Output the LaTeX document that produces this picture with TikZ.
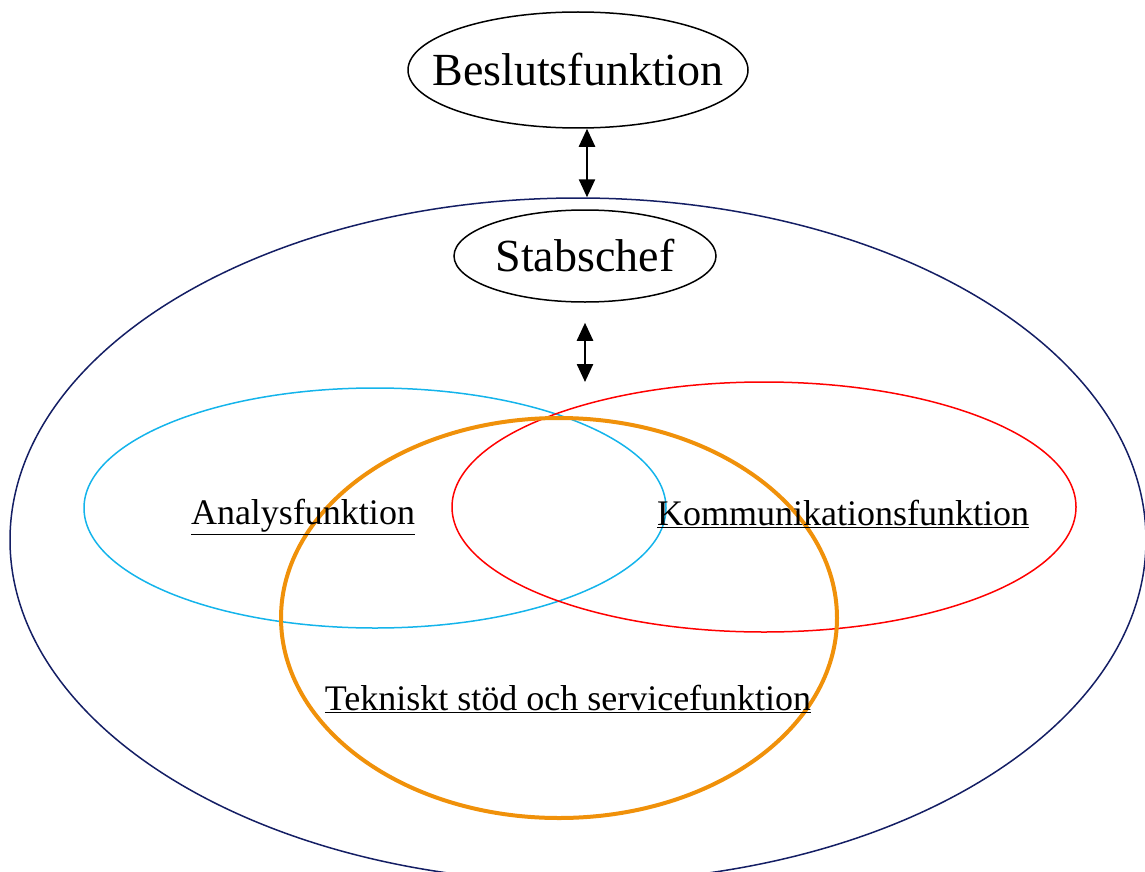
\documentclass[tikz,border=0pt]{standalone}
\usepackage{fontspec}
\setmainfont{Liberation Serif}
\usetikzlibrary{shapes.geometric,arrows.meta}
\definecolor{navy}{RGB}{20,30,100}
\definecolor{ljusbla}{RGB}{20,180,235}
\definecolor{orange}{RGB}{240,145,10}
\tikzset{
 ring/.style={ellipse,draw,inner sep=0pt,line width=1.5pt},
 etikett/.style={font=\fontsize{36}{40}\selectfont},
 pil/.style={{Triangle[width=16pt,length=18pt]}-{Triangle[width=16pt,length=18pt]},line width=2.5pt}
}
\begin{document}
\begin{tikzpicture}[x=1pt,y=-1pt]
 \useasboundingbox (0,0) rectangle (1145,872);
 \clip (0,0) rectangle (1145,872);
 % yttre ring
 \node[ring,navy,minimum width=1136pt,minimum height=684pt] (stab) at (578,540) {};
 \node[ring,inner xsep=-35pt,minimum width=340pt,minimum height=116pt,font=\fontsize{46}{50}\selectfont] (beslut) at (578,70) {Beslutsfunktion};
 \node[ring,minimum width=262pt,minimum height=92pt,font=\fontsize{46}{50}\selectfont] (chef) at (585,256) {Stabschef};
 % funktioner
 \node[ring,ljusbla,minimum width=582pt,minimum height=240pt] (analys) at (375,508) {};
 \node[ring,red,minimum width=624pt,minimum height=250pt] (komm) at (764,507) {};
 \node[ring,orange,line width=4pt,minimum width=556pt,minimum height=400pt] (tekn) at (559,618) {};
 \node[etikett] (analystxt) at (303,517) {\underline{Analysfunktion}};
 \node[etikett] (kommtxt) at (843,514) {\underline{Kommunikationsfunktion}};
 \node[etikett] (tekntxt) at (568,699) {\underline{Tekniskt stöd och servicefunktion}};
 % pilar
 \coordinate (pilslut) at (585,382);
 \draw[pil] (beslut.south -| 587,0) -- (stab.north -| 587,0);
 \draw[pil,shorten <=20pt] (chef.south) -- (pilslut);
\end{tikzpicture}
\end{document}
